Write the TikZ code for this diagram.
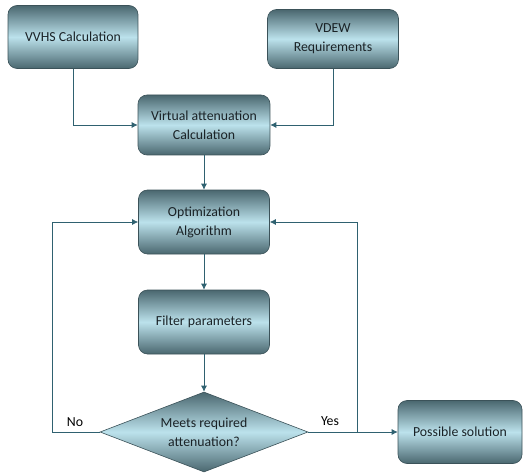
\documentclass[tikz,border=0pt]{standalone}
\usepackage{fontspec}
\setmainfont{Carlito}
\usetikzlibrary{shapes.geometric,arrows.meta}
\definecolor{boxdark}{HTML}{4A676F}
\definecolor{boxlight}{HTML}{BCE2EC}
\definecolor{linecol}{HTML}{2F6170}
\definecolor{textcol}{HTML}{1A2226}
\begin{document}
\begin{tikzpicture}[
  x=1pt, y=-1pt,
  font=\fontsize{13.8}{19}\selectfont,
  stepbox/.style={draw=boxdark!80!black, rounded corners=9pt, line width=0.6pt,
    top color=boxdark, bottom color=boxdark, middle color=boxlight,
    text=textcol, align=center, inner sep=2pt},
  decision/.style={diamond, aspect=2.6, draw=boxdark!80!black, line width=0.6pt, inner sep=0pt,
    top color=boxdark, bottom color=boxdark, middle color=boxlight,
    text=textcol, align=center},
  flow/.style={draw=linecol, line width=0.8pt, -{Latex[length=6pt,width=6pt]}},
  answer/.style={text=black},
]
  \useasboundingbox (0,0) rectangle (524,473);

  \node[stepbox, minimum width=130pt, minimum height=63pt] (vvhs) at (73,37) {VVHS Calculation};
  \node[stepbox, minimum width=131pt, minimum height=59pt] (vdew) at (333,39) {VDEW\\Requirements};
  \node[stepbox, minimum width=132pt, minimum height=60pt] (virt) at (204,125) {Virtual attenuation\\Calculation};
  \node[stepbox, minimum width=131pt, minimum height=64pt] (opt) at (204,222) {Optimization\\Algorithm};
  \node[stepbox, minimum width=131pt, minimum height=64pt] (filt) at (204,322) {Filter parameters};
  \node[decision, minimum width=208pt, minimum height=80pt] (meets) at (204,432) {Meets required\\attenuation?};
  \node[stepbox, minimum width=124pt, minimum height=63pt] (sol) at (460,432) {Possible solution};

  \coordinate (nocorner) at (52,432);
  \coordinate (yescorner) at (357,432);

  \draw[flow] (vvhs.south) |- (virt.west);
  \draw[flow] (vdew.south) |- (virt.east);
  \draw[flow] (virt) -- (opt);
  \draw[flow] (opt) -- (filt);
  \draw[flow] (filt) -- (meets);
  \draw[flow] (meets.west) -- (nocorner) |- (opt.west);
  \draw[flow] (meets.east) -- (yescorner) |- (opt.east);
  \draw[flow] (yescorner) -- (sol.west);

  \node[answer] (nolabel) at (75,422) {No};
  \node[answer] (yeslabel) at (330,421) {Yes};
\end{tikzpicture}
\end{document}
